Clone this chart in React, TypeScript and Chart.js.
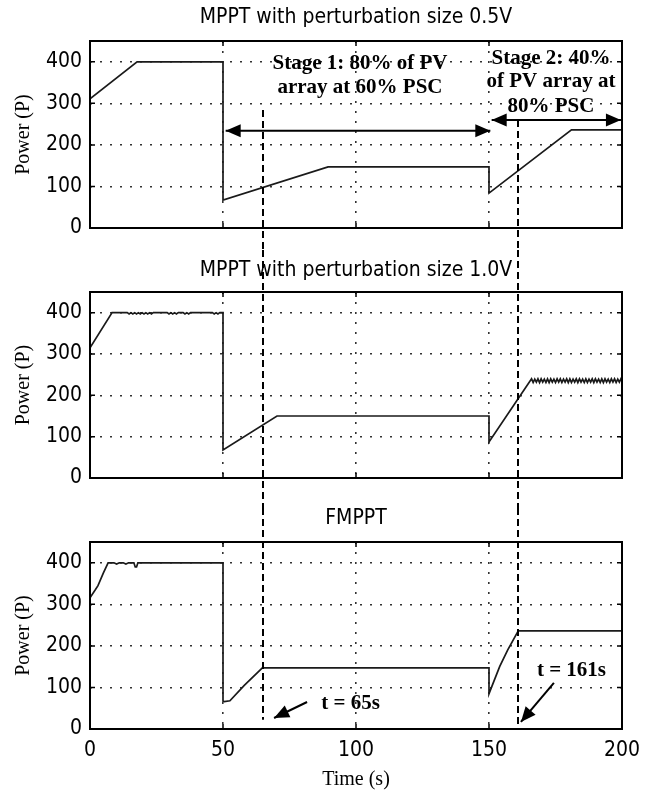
import { useEffect, useRef } from 'react';
import { Chart, registerables } from 'chart.js';

Chart.register(...registerables);

// ---------- data ----------
const TIME_MIN = 0;
const TIME_MAX = 200;
const POWER_MIN = 0;
const POWER_MAX = 450;
const POWER_TICKS = [0, 100, 200, 300, 400];
const TIME_TICKS = [0, 50, 100, 150, 200];

const PANEL_TITLES = [
  'MPPT with perturbation size 0.5V',
  'MPPT with perturbation size 1.0V',
  'FMPPT',
];
const Y_TITLE = 'Power (P)';
const X_TITLE = 'Time (s)';

// MPPT 0.5 V
const T_05 = [0, 17.7, 50, 50, 89.5, 150, 150, 181, 200];
const P_05 = [311, 400, 400, 67, 147, 147, 84, 236, 236];

// MPPT 1.0 V
const T_10 = [
  0, 8.3, 14, 14.7, 15.4, 16.1, 16.8, 17.5, 18.2, 18.9, 19.6, 20.3, 21, 21.7, 22.4, 23.1, 23.8,
  29, 29.7, 30.4, 31.1, 31.8, 32.5, 33.2, 35, 35.7, 36.4, 37.1, 37.8,
  46, 46.7, 47.4, 48.1, 48.8, 50, 50, 70.3, 150, 150,
  166, 166.6, 167.2, 167.8, 168.4, 169, 169.6, 170.2, 170.8, 171.4, 172, 172.6, 173.2, 173.8, 174.4, 175, 175.6,
  176.2, 176.8, 177.4, 178, 178.6, 179.2, 179.8, 180.4, 181, 181.6, 182.2, 182.8, 183.4, 184, 184.6, 185.2, 185.8,
  186.4, 187, 187.6, 188.2, 188.8, 189.4, 190, 190.6, 191.2, 191.8, 192.4, 193, 193.6, 194.2, 194.8, 195.4, 196,
  196.6, 197.2, 197.8, 198.4, 199, 199.6, 200,
];
const P_10 = [
  315, 400, 400, 397, 400, 397, 400, 397, 400, 397, 400, 397, 400, 397, 400, 397, 400,
  400, 397, 400, 397, 400, 397, 400, 400, 397, 400, 397, 400,
  400, 397, 400, 397, 400, 400, 68, 150, 150, 87,
  240, 231, 239, 232, 240, 231, 240, 232, 239, 231, 240, 231, 240, 232, 239, 231, 240,
  232, 240, 231, 239, 232, 240, 231, 240, 231, 239, 232, 240, 231, 240, 232, 239, 231,
  240, 231, 239, 232, 240, 231, 240, 232, 239, 231, 240, 231, 240, 232, 239, 231, 240,
  232, 240, 231, 239, 232, 240, 236,
];

// FMPPT
const T_F = [0, 2, 3, 5, 6.8, 9, 10, 11, 12.5, 13.5, 14.5, 16.5, 17, 17.5, 18, 50, 50, 50.5, 52.6, 58, 64.8, 150, 150, 154, 157, 161, 200];
const P_F = [316, 335, 345, 375, 400, 400, 397, 400, 400, 397, 400, 400, 390, 390, 400, 400, 67, 66, 68, 105, 147, 147, 85, 150, 190, 236, 236];

const MARK_TIMES = [65, 161];
const MARK_LABELS = ['t = 65s', 't = 161s'];
const STAGE1_LINES = ['Stage 1: 80% of PV', 'array at 60% PSC'];
const STAGE2_LINES = ['Stage 2: 40%', 'of PV array at', '80% PSC'];

// ---------- styles ----------
const NARROW = "'Liberation Sans Narrow', 'DejaVu Sans Condensed', 'Roboto Condensed', Arial, sans-serif";
const SERIF = "'Liberation Serif', 'Times New Roman', serif";
const BOLD_SERIF = `bold 21px ${SERIF}`;

type Arrow = { from: [number, number]; to: [number, number]; both: boolean };
type TextItem = { lines: string[]; t: number; v: number[] };
type Panel = {
  title: string;
  top: number;
  height: number;
  titlePadTop: number;
  titlePadBottom: number;
  xHeight: number;
  showX: boolean;
  xs: number[];
  ys: number[];
  markFrom: (number | null)[];
  markTo: (number | null)[];
  arrows: Arrow[];
  texts: TextItem[];
};

const PANELS: Panel[] = [
  {
    title: PANEL_TITLES[0], top: 0, height: 250, titlePadTop: 7.5, titlePadBottom: 12.5, xHeight: 22, showX: false,
    xs: T_05, ys: P_05,
    markFrom: [284, 260], markTo: [null, null],
    arrows: [
      { from: [51, 234], to: [150.5, 234], both: true },
      { from: [151, 260], to: [199.6, 260], both: true },
    ],
    texts: [
      { lines: STAGE1_LINES, t: 101.5, v: [395, 337] },
      { lines: STAGE2_LINES, t: 173.3, v: [408, 352, 292] },
    ],
  },
  {
    title: PANEL_TITLES[1], top: 250, height: 258, titlePadTop: 10.5, titlePadBottom: 10.5, xHeight: 30, showX: false,
    xs: T_10, ys: P_10,
    markFrom: [null, null], markTo: [null, null],
    arrows: [], texts: [],
  },
  {
    title: PANEL_TITLES[2], top: 508, height: 285, titlePadTop: 0.5, titlePadBottom: 12.5, xHeight: 64, showX: true,
    xs: T_F, ys: P_F,
    markFrom: [null, null], markTo: [22, 0],
    arrows: [
      { from: [81.6, 65], to: [69.2, 26.5], both: false },
      { from: [174.4, 111], to: [162, 17], both: false },
    ],
    texts: [
      { lines: [MARK_LABELS[0]], t: 98, v: [60] },
      { lines: [MARK_LABELS[1]], t: 181, v: [140] },
    ],
  },
];

function drawHead(ctx: CanvasRenderingContext2D, x1: number, y1: number, x2: number, y2: number) {
  const ang = Math.atan2(y2 - y1, x2 - x1);
  const len = 15;
  const hw = 6.5;
  ctx.beginPath();
  ctx.moveTo(x2, y2);
  ctx.lineTo(x2 - len * Math.cos(ang) + hw * Math.sin(ang), y2 - len * Math.sin(ang) - hw * Math.cos(ang));
  ctx.lineTo(x2 - len * Math.cos(ang) - hw * Math.sin(ang), y2 - len * Math.sin(ang) + hw * Math.cos(ang));
  ctx.closePath();
  ctx.fill();
}

function makeDecor(panel: Panel, idx: number) {
  return {
    id: 'decor' + idx,
    afterDatasetsDraw(chart: any) {
      const { ctx, chartArea: a, scales } = chart;
      const xs = scales.x;
      const ys = scales.y;
      ctx.save();
      ctx.strokeStyle = '#000';
      ctx.lineWidth = 2;
      ctx.strokeRect(a.left, a.top, a.right - a.left, a.bottom - a.top);
      ctx.lineWidth = 1.5;
      ctx.beginPath();
      for (const v of POWER_TICKS) {
        const py = ys.getPixelForValue(v);
        ctx.moveTo(a.left, py); ctx.lineTo(a.left + 5, py);
        ctx.moveTo(a.right, py); ctx.lineTo(a.right - 5, py);
      }
      for (const t of TIME_TICKS) {
        const px = xs.getPixelForValue(t);
        ctx.moveTo(px, a.bottom); ctx.lineTo(px, a.bottom - 5);
        ctx.moveTo(px, a.top); ctx.lineTo(px, a.top + 5);
      }
      ctx.stroke();
      ctx.restore();
    },
    afterDraw(chart: any) {
      const { ctx, scales } = chart;
      const xs = scales.x;
      const ys = scales.y;
      ctx.save();
      ctx.strokeStyle = '#000';
      ctx.lineWidth = 2;
      ctx.setLineDash([7, 4]);
      MARK_TIMES.forEach((t, i) => {
        const px = Math.round(xs.getPixelForValue(t));
        const f = panel.markFrom[i];
        const to = panel.markTo[i];
        const y0 = f === null ? 0 : ys.getPixelForValue(f);
        const y1 = to === null ? chart.height : ys.getPixelForValue(to);
        ctx.beginPath();
        ctx.moveTo(px, y0);
        ctx.lineTo(px, y1);
        ctx.stroke();
      });
      ctx.setLineDash([]);
      ctx.fillStyle = '#000';
      ctx.lineWidth = 2;
      for (const ar of panel.arrows) {
        const x1 = xs.getPixelForValue(ar.from[0]);
        const y1 = ys.getPixelForValue(ar.from[1]);
        const x2 = xs.getPixelForValue(ar.to[0]);
        const y2 = ys.getPixelForValue(ar.to[1]);
        ctx.beginPath();
        ctx.moveTo(x1, y1);
        ctx.lineTo(x2, y2);
        ctx.stroke();
        drawHead(ctx, x1, y1, x2, y2);
        if (ar.both) drawHead(ctx, x2, y2, x1, y1);
      }
      ctx.font = BOLD_SERIF;
      ctx.textAlign = 'center';
      ctx.textBaseline = 'middle';
      for (const tx of panel.texts) {
        const px = xs.getPixelForValue(tx.t);
        tx.lines.forEach((ln, i) => {
          ctx.fillText(ln, px, ys.getPixelForValue(tx.v[i]));
        });
      }
      ctx.restore();
    },
  };
}

function PanelChart({ panel, idx }: { panel: Panel; idx: number }) {
  const ref = useRef<HTMLCanvasElement | null>(null);
  useEffect(() => {
    if (!ref.current) return;
    const points = panel.xs.map((x, i) => ({ x, y: panel.ys[i] }));
    const chart = new Chart(ref.current, {
      type: 'line',
      data: {
        datasets: [
          {
            data: points,
            borderColor: '#1a1a1a',
            borderWidth: 1.7,
            pointRadius: 0,
            tension: 0,
            fill: false,
          },
        ],
      },
      options: {
        animation: false,
        responsive: false,
        maintainAspectRatio: false,
        parsing: false as any,
        layout: { padding: { left: 0, right: 29, top: 0, bottom: 0 } },
        plugins: {
          legend: { display: false },
          tooltip: { enabled: false },
          title: {
            display: true,
            text: panel.title,
            fullSize: false,
            color: '#000',
            font: { family: NARROW, size: 21, weight: 'normal', lineHeight: 1 },
            padding: { top: panel.titlePadTop, bottom: panel.titlePadBottom },
          },
        },
        scales: {
          x: {
            type: 'linear',
            min: TIME_MIN,
            max: TIME_MAX,
            afterFit: (s: any) => { s.height = panel.xHeight; },
            afterBuildTicks: (s: any) => { s.ticks = TIME_TICKS.map((v) => ({ value: v })); },
            ticks: {
              display: panel.showX,
              color: '#000',
              padding: 9,
              maxRotation: 0,
              font: { family: NARROW, size: 21, lineHeight: 1.2 },
            },
            grid: { display: true, color: '#333', lineWidth: 1.6, drawTicks: false },
            border: { display: false, dash: [2, 8] },
            title: {
              display: panel.showX,
              text: X_TITLE,
              color: '#000',
              font: { family: SERIF, size: 20, lineHeight: 1.2 },
              padding: { top: 0, bottom: 1 },
            },
          },
          y: {
            type: 'linear',
            min: POWER_MIN,
            max: POWER_MAX,
            afterFit: (s: any) => { s.width = 90; },
            afterBuildTicks: (s: any) => { s.ticks = POWER_TICKS.map((v) => ({ value: v })); },
            ticks: {
              color: '#000',
              padding: 8,
              font: { family: NARROW, size: 21, lineHeight: 1.2 },
            },
            grid: { display: true, color: '#333', lineWidth: 1.6, drawTicks: false },
            border: { display: false, dash: [2, 8] },
            title: {
              display: true,
              text: Y_TITLE,
              color: '#000',
              font: { family: SERIF, size: 20, lineHeight: 1.2 },
              padding: { top: 12, bottom: 0 },
            },
          },
        },
      },
      plugins: [makeDecor(panel, idx)],
    } as any);
    return () => chart.destroy();
  }, [panel, idx]);
  return (
    <canvas
      ref={ref}
      width={651}
      height={panel.height}
      style={{ position: 'absolute', left: 0, top: panel.top, width: 651, height: panel.height }}
    />
  );
}

export default function App() {
  return (
    <div style={{ position: 'absolute', left: 0, top: 0, width: 651, height: 793, background: '#fff', overflow: 'hidden' }}>
      {PANELS.map((p, i) => (
        <PanelChart key={i} panel={p} idx={i} />
      ))}
    </div>
  );
}
